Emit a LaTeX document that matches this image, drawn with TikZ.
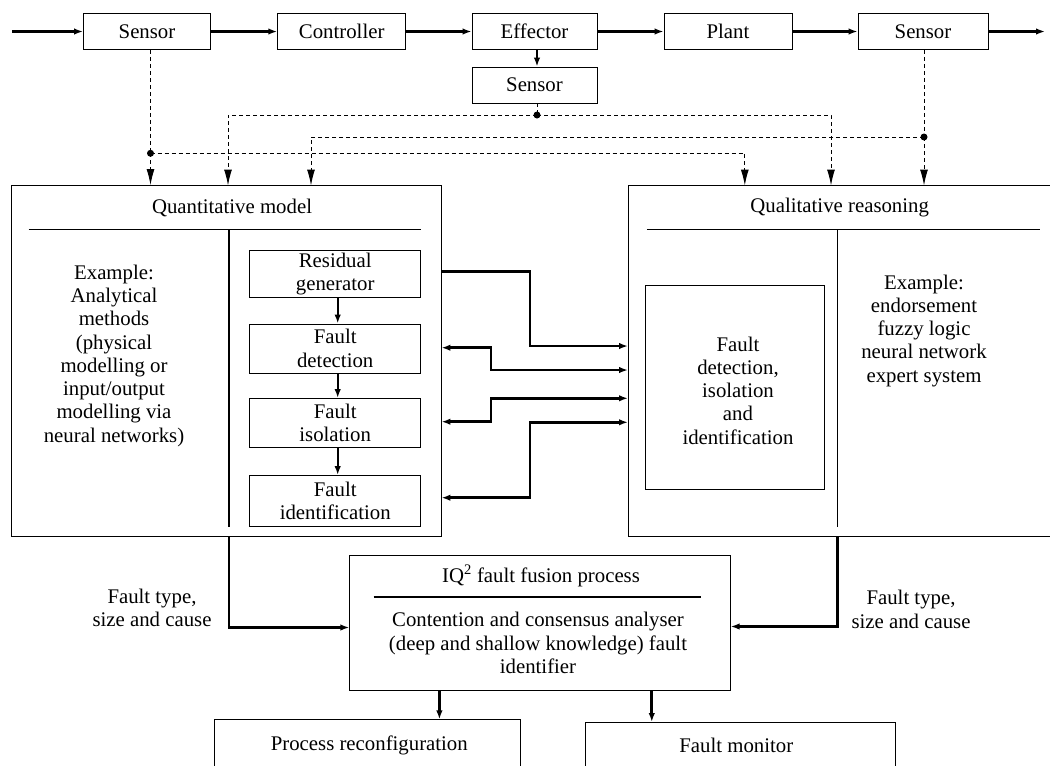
\documentclass[tikz,border=0pt]{standalone}
\usepackage{fontspec}
\setmainfont{Liberation Serif}
\usetikzlibrary{arrows.meta,calc}
\begin{document}
\begin{tikzpicture}[x=1pt,y=-1pt,
  every node/.style={font=\fontsize{20.8}{23.3}\selectfont, inner sep=0pt},
  box/.style={draw, line width=0.9pt},
  >={Latex[length=9pt,width=6.5pt]},
  flow/.style={line width=2.2pt, ->},
  conn/.style={line width=2.8pt},
  rule/.style={line width=1.8pt},
  divider/.style={line width=1.5pt},
  dashl/.style={line width=1pt, dash pattern=on 4pt off 3pt},
  dasharr/.style={dashl, -{Latex[length=16pt,width=8pt]}}]
\useasboundingbox (0,0) rectangle (1050,766);

% ---------- top row ----------
\coordinate (in) at (12,31.5);
\node[box,minimum width=127pt,minimum height=36pt] (s1) at (147,31.5) {Sensor};
\node[box,minimum width=128pt,minimum height=36pt] (ctrl) at (341.7,31.5) {Controller};
\node[box,minimum width=125pt,minimum height=36pt] (eff) at (534.5,31.5) {Effector};
\node[box,minimum width=128pt,minimum height=36pt] (plant) at (728,31.5) {Plant};
\node[box,minimum width=130pt,minimum height=36pt] (s3) at (923,31.5) {Sensor};
\coordinate (out) at (1045,31.5);
\node[box,minimum width=125pt,minimum height=36pt] (s2) at (534.5,85) {Sensor};

\draw[flow] (in) -- (s1);
\draw[flow] (s1) -- (ctrl);
\draw[flow] (ctrl) -- (eff);
\draw[flow] (eff) -- (plant);
\draw[flow] (plant) -- (s3);
\draw[flow] (s3) -- (out);
\draw[flow] ([xshift=2.5pt]eff.south) -- ([xshift=2.5pt]s2.north);

% ---------- left box ----------
\node[box,minimum width=429.2pt,minimum height=350.5pt] (qm) at (226.4,360.75) {};
\node (qmt) at (232,208) {Quantitative model};
\draw[rule] (28.7,229.5) -- (420.8,229.5);
\draw[divider] (229,229.5) -- (229,527);
\node[align=center] (qmx) at (114,355.7) {Example:\\Analytical\\methods\\(physical\\modelling or\\input/output\\modelling via\\neural networks)};

\node[box,minimum width=171.3pt,minimum height=47.5pt,align=center] (res) at (335.2,274) {Residual\\generator};
\node[box,minimum width=171.3pt,minimum height=49pt,align=center] (det) at (335.2,348.5) {Fault\\detection};
\node[box,minimum width=171.3pt,minimum height=49pt,align=center] (iso) at (335.2,423) {Fault\\isolation};
\node[box,minimum width=171.3pt,minimum height=51pt,align=center] (idf) at (335.2,501) {Fault\\identification};
\draw[flow] ([xshift=2.5pt]res.south) -- ([xshift=2.5pt]det.north);
\draw[flow] ([xshift=2.5pt]det.south) -- ([xshift=2.5pt]iso.north);
\draw[flow] ([xshift=2.5pt]iso.south) -- ([xshift=2.5pt]idf.north);

% ---------- right box ----------
\coordinate (qrTL) at (628,185.5);
\coordinate (qrBL) at (628,536.5);
\draw[box] (1051,185.5) -- (qrTL) -- (qrBL) -- (1051,536.5);
\node (qrt) at (839.7,208) {Qualitative reasoning};
\draw[rule] (646.8,229.5) -- (1040,229.5);
\draw[divider] (837.7,229.5) -- (837.7,527);
\node[box,minimum width=178.5pt,minimum height=204.5pt] (fdi) at (735,387.5) {};
\node[align=center] (fdit) at (738,390.5) {Fault\\detection,\\isolation\\and\\identification};
\node[align=center] (qrx) at (924,330.7) {Example:\\endorsement\\fuzzy logic\\neural network\\expert system};

% ---------- dashed sensor lines ----------
\coordinate (d1) at (150.5,153.3);
\coordinate (d2) at (537,115);
\coordinate (d3) at (924,137);
\draw[dashl] (s1.south -| d1) -- (d1);
\draw[dashl] (s2.south -| d2) -- (d2);
\draw[dashl] (s3.south -| d3) -- (d3);
\draw[dasharr] (d1) -- (d1 |- qm.north);
\draw[dasharr] (d1) -| (744.8,185.5);
\draw[dasharr] (d2) -| (228,185.5);
\draw[dasharr] (d2) -| (831,185.5);
\draw[dasharr] (d3) -| (311,185.5);
\draw[dasharr] (d3) -- (d3 |- qrTL);
\fill (d1) circle (3.5pt);
\fill (d2) circle (3.5pt);
\fill (d3) circle (3.5pt);

% ---------- connectors between the two boxes ----------
\draw[conn,->] (qm.east |- 0,271.7) -| (530,346) -- (qrTL |- 0,346);
\draw[conn,<->] (qm.east |- 0,347.7) -| (491,370) -- (qrTL |- 0,370);
\draw[conn,<->] (qm.east |- 0,421.7) -| (491,398.3) -- (qrTL |- 0,398.3);
\draw[conn,<->] (qm.east |- 0,497.7) -| (530,422.3) -- (qrTL |- 0,422.3);

% ---------- fusion box ----------
\node[box,minimum width=380.4pt,minimum height=135.2pt] (fus) at (540,623.1) {};
\node (fust) at (541,575.8) {IQ\textsuperscript{2} fault fusion process};
\draw[rule] (373.5,597) -- (700.8,597);
\node[align=center] (fusx) at (538,643) {Contention and consensus analyser\\(deep and shallow knowledge) fault\\identifier};

\draw[conn,->] (229,536) |- ([yshift=-4.4pt]fus.west);
\draw[conn,->] (837.7,536.5) |- ([yshift=-3.4pt]fus.east);
\node[align=center] (lft) at (152,608) {Fault type,\\size and cause};
\node[align=center] (rft) at (911,609.5) {Fault type,\\size and cause};

% ---------- bottom boxes ----------
\coordinate (prT) at (439.4,719.4);
\coordinate (fmT) at (651.8,722);
\draw[box] (214.6,767) -- (214.6,719.4) -- (520.5,719.4) -- (520.5,767);
\node (prt) at (369.3,745.8) {Process reconfiguration};
\draw[box] (585.9,767) -- (585.9,722) -- (895.9,722) -- (895.9,767);
\node (fmt) at (736.3,745.8) {Fault monitor};
\draw[conn,->] (fus.south -| prT) -- (prT);
\draw[conn,->] (fus.south -| fmT) -- (fmT);
\end{tikzpicture}
\end{document}
